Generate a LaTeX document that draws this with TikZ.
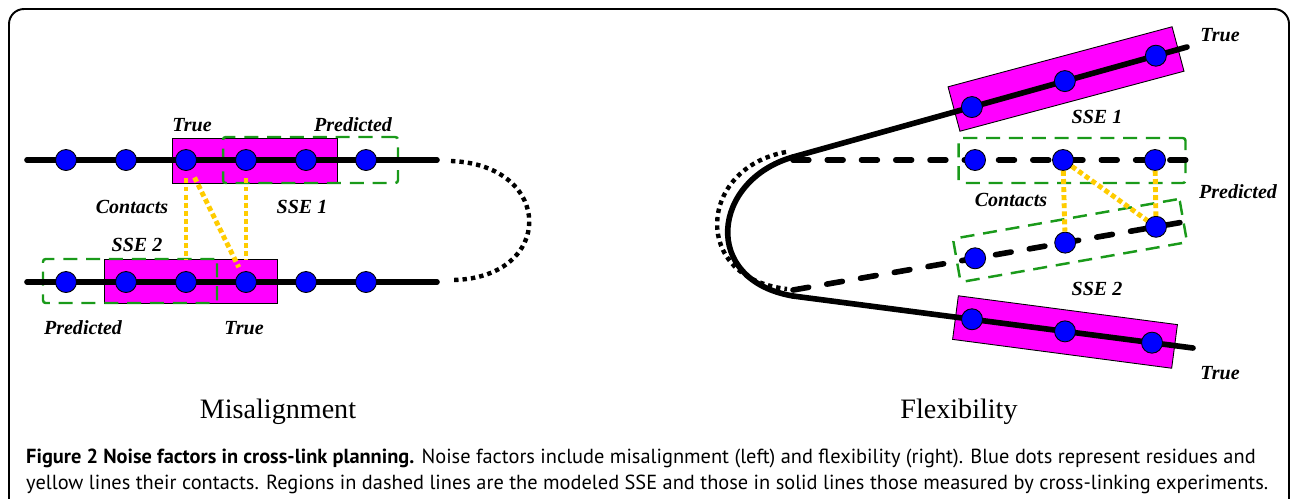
\documentclass[tikz,border=0pt]{standalone}
\usepackage{fontspec}
\setmainfont{Liberation Serif}
\newfontfamily\capfont{PT Sans}
\usetikzlibrary{positioning}
\definecolor{resblue}{HTML}{0000FF}
\definecolor{ssemag}{HTML}{FF00FF}
\definecolor{predgreen}{HTML}{1A9A1A}
\definecolor{contactyellow}{HTML}{FFCC00}

\begin{document}
\begin{tikzpicture}[x=0.02cm,y=-0.02cm,
  residue/.style={circle,draw=black,line width=0.5pt,fill=resblue,minimum size=0.42cm,inner sep=0pt},
  truebox/.style={rectangle,draw=black,line width=0.5pt,fill=ssemag,inner sep=0pt},
  predbox/.style={rectangle,rounded corners=1.5pt,draw=predgreen,line width=1.4pt,dash pattern=on 8pt off 5pt,inner sep=0pt},
  chain/.style={line width=3.2pt,line cap=round},
  predchain/.style={line width=3.2pt,line cap=round,dash pattern=on 9pt off 10.5pt},
  hairpin/.style={line width=2.5pt,dash pattern=on 2.5pt off 2.3pt},
  contact/.style={draw=contactyellow,line width=2.8pt,dash pattern=on 2.8pt off 1.8pt},
  sselbl/.style={font=\fontsize{11.4}{13}\selectfont\bfseries\itshape},
  paneltitle/.style={font=\fontsize{16}{19}\selectfont},
  figcaption/.style={font=\capfont\fontsize{11.6}{14.9}\selectfont,align=left}]
\clip (0,0) rectangle (1293,498);
\draw[line width=1.1pt,rounded corners=0.3cm] (9,540) -- (9,9) -- (1289,9) -- (1289,540);

\node[truebox,minimum width=3.3cm,minimum height=0.9cm] (ttrue) at (254.5,160.5) {};
\node[truebox,minimum width=3.46cm,minimum height=0.88cm] (btrue) at (190.5,281) {};
\node[predbox,minimum width=3.5cm,minimum height=0.92cm] (tpred) at (310.5,160) {};
\node[predbox,minimum width=3.48cm,minimum height=0.88cm] (bpred) at (130,281) {};
\coordinate (ta) at (27,160);
\coordinate (tb) at (437,160);
\coordinate (ba) at (27,282);
\coordinate (bb) at (437,282);
\draw[chain] (ta) -- (tb);
\draw[chain] (ba) -- (bb);
\coordinate (la) at (451,161);
\coordinate (lb) at (453,280);
\draw[hairpin] (la) .. controls (555,165) and (555,278) .. (lb);
\foreach \i/\x in {1/66,2/126,3/186,4/246,5/306,6/366} {
  \node[residue] (t\i) at (\x,160) {};
  \node[residue] (b\i) at (\x,282) {};
}
\draw[contact,shorten <=0.15cm,shorten >=0.22cm] (t3) -- (b3);
\draw[contact,shorten <=0.15cm,shorten >=0.22cm] (t4) -- (b4);
\draw[contact,shorten <=0.17cm,shorten >=0.11cm] (t3) -- (b4);
\node[sselbl] (ltrue1) at (192,125) {True};
\node[sselbl] (lpred1) at (353,125) {Predicted};
\node[sselbl] (lcont) at (132,207) {Contacts};
\node[sselbl] (lsse1) at (302,207) {SSE 1};
\node[sselbl] (lsse2) at (137,245) {SSE 2};
\node[sselbl] (lpred2) at (83,328) {Predicted};
\node[sselbl] (ltrue2) at (244,328) {True};

\coordinate (ua) at (793,157);
\coordinate (ub) at (1187,47);
\coordinate (pa) at (793,160);
\coordinate (pb) at (1193,160);
\coordinate (qa) at (793,290);
\coordinate (qb) at (1195,220);
\coordinate (va) at (793,296);
\coordinate (vb) at (1193,348);
\node[truebox,minimum width=4.64cm,minimum height=0.92cm,rotate=15] (rtrue1) at (1066,79) {};
\node[truebox,minimum width=4.42cm,minimum height=0.88cm,rotate=-7.5] (rtrue2) at (1065,332) {};
\node[predbox,minimum width=4.54cm,minimum height=0.9cm] (rpred1) at (1072,160.5) {};
\node[predbox,minimum width=4.6cm,minimum height=0.88cm,rotate=10] (rpred2) at (1070,240.5) {};
\draw[chain] (ua) -- (ub);
\draw[chain] (va) -- (vb);
\draw[predchain] (pa) -- (pb);
\draw[predchain] (qa) -- (qb);
\draw[chain] (ua) .. controls (712,180) and (700,280) .. (va);
\coordinate (da) at (786,152);
\coordinate (db) at (787,289);
\draw[hairpin] (da) .. controls (698,168) and (690,278) .. (db);
\foreach \n/\p in {1/0.454,2/0.69,3/0.921} \path (ua) -- (ub) node[residue,pos=\p] (u\n) {};
\foreach \n/\p in {1/0.455,2/0.675,3/0.905} \path (pa) -- (pb) node[residue,pos=\p] (p\n) {};
\foreach \n/\p in {1/0.453,2/0.677,3/0.903} \path (qa) -- (qb) node[residue,pos=\p] (q\n) {};
\foreach \n/\p in {1/0.4475,2/0.68,3/0.8975} \path (va) -- (vb) node[residue,pos=\p] (v\n) {};
\draw[contact] (p2) -- (q2);
\draw[contact] (p3) -- (q3);
\draw[contact] (p2) -- (q3);
\node[sselbl] (rtruel1) at (1220,35) {True};
\node[sselbl] (rsse1) at (1097,117) {SSE 1};
\node[sselbl] (rcont) at (1011,200) {Contacts};
\node[sselbl] (rpredl) at (1238,192) {Predicted};
\node[sselbl] (rsse2) at (1097,289) {SSE 2};
\node[sselbl] (rtruel2) at (1220,373) {True};

\node[paneltitle] (mis) at (278,412) {Misalignment};
\node[paneltitle] (flex) at (959,412) {Flexibility};
\node[figcaption,anchor=west] (cap) at (20,471) {\textbf{Figure 2 Noise factors in cross-link planning.} Noise factors include misalignment (left) and flexibility (right). Blue dots represent residues and\\yellow lines their contacts. Regions in dashed lines are the modeled SSE and those in solid lines those measured by cross-linking experiments.};
\end{tikzpicture}
\end{document}
